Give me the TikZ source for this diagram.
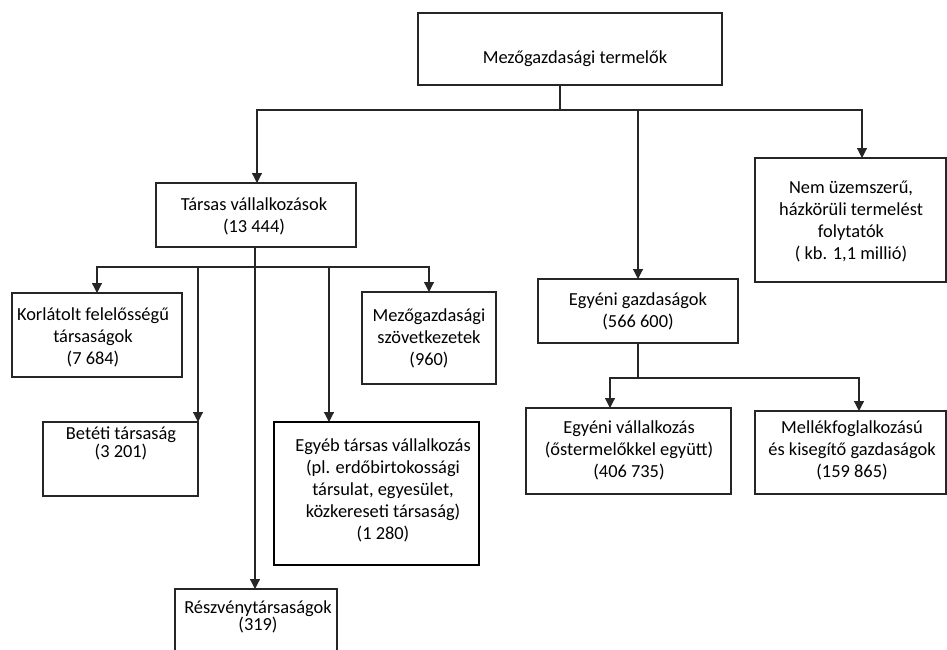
\documentclass[tikz,border=0pt]{standalone}
\usepackage{fontspec}
\setmainfont{Carlito}
\usetikzlibrary{arrows.meta}
\begin{document}
\begin{tikzpicture}[x=1pt,y=-1pt,
  box/.style={draw=black!85, line width=1.2pt, inner sep=0pt, outer sep=0pt},
  thickbox/.style={box, draw=black, line width=2.6pt},
  txt/.style={align=center, inner sep=0pt, font=\fontsize{18.4}{22}\selectfont, text=black},
  conn/.style={draw=black!85, line width=1.2pt},
  arr/.style={conn, -{Triangle[width=10pt,length=10pt]}}]
\clip (0,0) rectangle (947,650);
\fill[white] (0,0) rectangle (947,650);

% boxes
\node[box, minimum width=304, minimum height=72] (top) at (570,49) {};
\node[box, minimum width=200, minimum height=64] (tars) at (256,215) {};
\node[box, minimum width=170, minimum height=84] (korl) at (97,335) {};
\node[box, minimum width=134, minimum height=92] (szov) at (429,338) {};
\node[box, minimum width=155, minimum height=74] (bet) at (120.5,459) {};
\node[thickbox, minimum width=205, minimum height=143] (egyeb) at (376.5,493.5) {};
\node[box, minimum width=162, minimum height=81] (reszv) at (256,629.5) {};
\node[box, minimum width=200, minimum height=64] (egyg) at (638,311) {};
\node[box, minimum width=191, minimum height=124] (nem) at (850.5,220) {};
\node[box, minimum width=205, minimum height=86] (egyv) at (628.5,451) {};
\node[box, minimum width=191, minimum height=83] (mell) at (850.5,452.5) {};

% texts
\node[txt] (ttop) at (575,59) {Mezőgazdasági termelők};
\node[txt] (ttars) at (254,216) {Társas vállalkozások\\(13 444)};
\node[txt] (tkorl) at (93,337) {Korlátolt felelősségű\\társaságok\\(7 684)};
\node[txt] (tszov) at (429,338) {Mezőgazdasági\\szövetkezetek\\(960)};
\node[txt, font=\fontsize{18.4}{18}\selectfont] (tbet) at (121,443) {Betéti társaság\\(3 201)};
\node[txt] (tegyeb) at (383,490) {Egyéb társas vállalkozás\\(pl. erdőbirtokossági\\társulat, egyesület,\\közkereseti társaság)\\(1 280)};
\node[txt, font=\fontsize{18.4}{13}\selectfont] (treszv) at (258,617) {Részvénytársaságok\\(319)};
\node[txt] (tegyg) at (638,311) {Egyéni gazdaságok\\(566 600)};
\node[txt] (tnem) at (851,221) {Nem üzemszerű,\\házkörüli termelést\\folytatók\\( kb. 1,1 millió)};
\node[txt] (tegyv) at (629,450) {Egyéni vállalkozás\\(őstermelőkkel együtt)\\(406 735)};
\node[txt] (tmell) at (852,450) {Mellékfoglalkozású\\és kisegítő gazdaságok\\(159 865)};

% level 1
\coordinate (j0) at (560,110);
\draw[conn] ([xshift=-10]top.south) -- (j0);
\draw[arr] (j0) -| ([xshift=1]tars.north);
\draw[arr] (j0) -| ([xshift=11.5]nem.north);
\draw[arr] (j0 -| egyg.north) -- (egyg.north);

% társas
\coordinate (j1) at (255,267);
\coordinate (e1) at ([xshift=55]egyeb.north west);
\draw[arr] ([xshift=-1]tars.south) -- ([xshift=-1]reszv.north);
\draw[arr] (j1) -| (korl.north);
\draw[arr] (j1) -| (szov.north);
\draw[arr] (j1 -| bet.north east) -- (bet.north east);
\draw[arr] (j1 -| e1) -- (e1);

% egyéni
\coordinate (j2) at (638,378);
\draw[conn] (egyg.south) -- (j2);
\draw[arr] (j2) -| ([xshift=-18.5]egyv.north);
\draw[arr] (j2) -| ([xshift=8.5]mell.north);
\end{tikzpicture}
\end{document}
